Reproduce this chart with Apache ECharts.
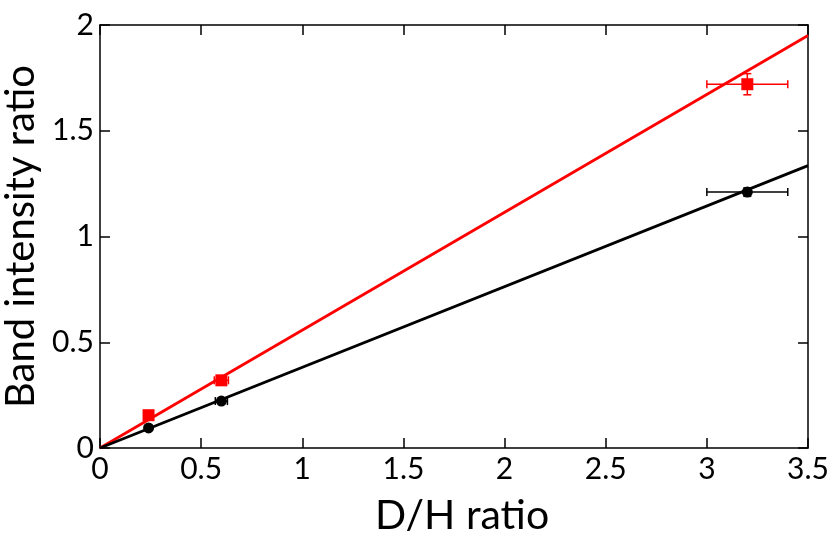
<!DOCTYPE html>
<html>
<head>
<meta charset="UTF-8">
<title>Band intensity ratio</title>
<script src="https://cdn.jsdelivr.net/npm/echarts@6/dist/echarts.min.js"></script>
<style>
html, body { margin: 0; padding: 0; background: #fff; }
#main { width: 831px; height: 538px; }
</style>
</head>
<body>
<div id="main"></div>
<script>
// data
var dhRatio   = [0.24, 0.60, 3.20];
var redBand   = [0.155, 0.32, 1.72];
var redXErr   = [0.01, 0.035, 0.20];
var redYErr   = [0.01, 0.012, 0.05];
var blackBand = [0.095, 0.222, 1.21];
var blackXErr = [0.01, 0.03, 0.20];
var blackYErr = [0.01, 0.01, 0.02];
var fitX      = [0, 3.5];
var redFitY   = [0, 1.95];
var blackFitY = [0, 1.335];
var xTicks    = ['0', '0.5', '1', '1.5', '2', '2.5', '3', '3.5'];

var FONT = 'Lato';

function pts(xs, ys) {
    return xs.map(function (x, i) { return [x, ys[i]]; });
}
function errData(ys, xe, ye) {
    return dhRatio.map(function (x, i) { return [x, ys[i], xe[i], ye[i]]; });
}
function errBars(color) {
    return function (params, api) {
        var x = api.value(0), y = api.value(1), dx = api.value(2), dy = api.value(3);
        var l = api.coord([x - dx, y]), r = api.coord([x + dx, y]);
        var t = api.coord([x, y + dy]), b = api.coord([x, y - dy]);
        var cap = 4;
        var st = { stroke: color, lineWidth: 1.5 };
        var lines = [
            [l[0], l[1], r[0], r[1]],
            [l[0], l[1] - cap, l[0], l[1] + cap],
            [r[0], r[1] - cap, r[0], r[1] + cap],
            [t[0], t[1], b[0], b[1]],
            [t[0] - cap, t[1], t[0] + cap, t[1]],
            [b[0] - cap, b[1], b[0] + cap, b[1]]
        ];
        return {
            type: 'group',
            children: lines.map(function (p) {
                return { type: 'line', shape: { x1: p[0], y1: p[1], x2: p[2], y2: p[3] }, style: st };
            })
        };
    };
}

var axisBase = {
    min: 0,
    axisLine: { show: true, onZero: false, lineStyle: { color: '#000', width: 1.5 } },
    axisTick: { show: true, inside: true, length: 10, lineStyle: { color: '#000', width: 1.5 } },
    splitLine: { show: false }
};

var chart = echarts.init(document.getElementById('main'));
chart.setOption({
    animation: false,
    backgroundColor: '#fff',
    grid: { left: 100, right: 23, top: 25, bottom: 90, containLabel: false, outerBoundsMode: 'none' },
    xAxis: [
        Object.assign({}, axisBase, {
            type: 'value', max: 3.5, interval: 0.5, position: 'bottom',
            name: 'D/H ratio', nameLocation: 'middle', nameGap: 47,
            nameTextStyle: { fontFamily: FONT, fontSize: 41, color: '#000', padding: [0, 0, 0, 16] },
            axisLabel: {
                fontFamily: FONT, fontSize: 30, color: '#000', margin: 6,
                formatter: function (v) { return xTicks[Math.round(v / 0.5)]; }
            }
        }),
        Object.assign({}, axisBase, {
            type: 'value', max: 3.5, interval: 0.5, position: 'top',
            axisLabel: { show: false }
        })
    ],
    yAxis: [
        Object.assign({}, axisBase, {
            type: 'value', max: 2, interval: 0.5, position: 'left',
            name: 'Band intensity ratio', nameLocation: 'middle', nameGap: 52,
            nameTextStyle: { fontFamily: FONT, fontSize: 40, color: '#000' },
            axisLabel: { fontFamily: FONT, fontSize: 30, color: '#000', margin: 6 }
        }),
        Object.assign({}, axisBase, {
            type: 'value', max: 2, interval: 0.5, position: 'right',
            axisLabel: { show: false }
        })
    ],
    series: [
        {
            type: 'line', data: pts(fitX, redFitY), symbol: 'none', z: 2,
            lineStyle: { color: '#ff0000', width: 2.8 }
        },
        {
            type: 'line', data: pts(fitX, blackFitY), symbol: 'none', z: 2,
            lineStyle: { color: '#000', width: 2.8 }
        },
        {
            type: 'custom', data: errData(redBand, redXErr, redYErr), z: 3,
            renderItem: errBars('#ff0000'), encode: { x: 0, y: 1 }
        },
        {
            type: 'custom', data: errData(blackBand, blackXErr, blackYErr), z: 3,
            renderItem: errBars('#000'), encode: { x: 0, y: 1 }
        },
        {
            type: 'scatter', data: pts(dhRatio, redBand), symbol: 'rect', symbolSize: 12, z: 4,
            itemStyle: { color: '#ff0000', opacity: 1 }
        },
        {
            type: 'scatter', data: pts(dhRatio, blackBand), symbol: 'circle', symbolSize: 11, z: 4,
            itemStyle: { color: '#000', opacity: 1 }
        }
    ]
});
</script>
</body>
</html>
